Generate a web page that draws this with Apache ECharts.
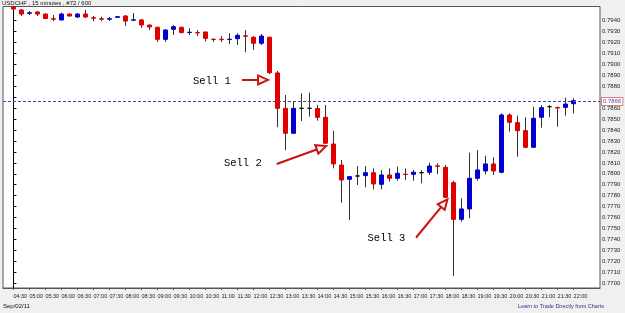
<!DOCTYPE html>
<html><head><meta charset="utf-8">
<script src="https://cdn.jsdelivr.net/npm/echarts@6/dist/echarts.min.js"></script>
<style>html,body{margin:0;padding:0;background:#f0f0f0;}#c{width:625px;height:313px;}</style>
</head><body><div id="c"></div>
<script>
// ---- data (USDCHF, 15 minutes, Sep/02/11) ----
const tickLabels = ['04:30','05:00','05:30','06:00','06:30','07:00','07:30','08:00','08:30','09:00','09:30','10:00','10:30','11:00','11:30','12:00','12:30','13:00','13:30','14:00','14:30','15:00','15:30','16:00','16:30','17:00','17:30','18:00','18:30','19:00','19:30','20:00','20:30','21:00','21:30','22:00'];
const priceTicks = [0.7700,0.7710,0.7720,0.7730,0.7740,0.7750,0.7760,0.7770,0.7780,0.7790,0.7800,0.7810,0.7820,0.7830,0.7840,0.7850,0.7860,0.7870,0.7880,0.7890,0.7900,0.7910,0.7920,0.7930,0.7940];
const opens = [
0.79523,0.79496,0.79466,0.79478,0.79459,0.79416,0.79405,0.79459,0.79432,0.79459,
0.79425,0.79416,0.79412,0.79429,0.79441,0.79403,0.79405,0.79359,0.79338,0.79228,
0.79320,0.79338,0.79290,0.79290,0.79295,0.79229,0.79229,0.79226,0.79234,0.79260,
0.79247,0.79192,0.79247,0.78921,0.78598,0.78370,0.78598,0.78598,0.78596,0.78516,
0.78272,0.78080,0.77950,0.77980,0.77983,0.78010,0.77904,0.77989,0.77959,0.77996,
0.77995,0.78010,0.78014,0.78073,0.78059,0.77919,0.77584,0.77679,0.77959,0.78026,
0.78090,0.78014,0.78537,0.78467,0.78394,0.78242,0.78516,0.78613,0.78606,0.78607,
0.78640];
const closes = [
0.79505,0.79459,0.79470,0.79459,0.79418,0.79412,0.79459,0.79441,0.79459,0.79432,
0.79421,0.79412,0.79416,0.79435,0.79395,0.79406,0.79359,0.79341,0.79228,0.79313,
0.79343,0.79289,0.79293,0.79286,0.79237,0.79226,0.79225,0.79229,0.79265,0.79256,
0.79192,0.79258,0.78923,0.78598,0.78370,0.78598,0.78598,0.78598,0.78516,0.78279,
0.78090,0.77943,0.77974,0.77980,0.78010,0.77907,0.77989,0.77959,0.78005,0.77994,
0.78014,0.78010,0.78071,0.78068,0.77785,0.77584,0.77679,0.77959,0.78035,0.78090,
0.78026,0.78537,0.78470,0.78394,0.78242,0.78507,0.78604,0.78613,0.78601,0.78637,
0.78668];
const lows = [
0.79496,0.79441,0.79450,0.79441,0.79416,0.79395,0.79400,0.79437,0.79423,0.79423,
0.79395,0.79395,0.79395,0.79428,0.79350,0.79395,0.79332,0.79313,0.79204,0.79204,
0.79268,0.79283,0.79268,0.79258,0.79210,0.79204,0.79204,0.79185,0.79176,0.79110,
0.79131,0.79176,0.78911,0.78425,0.78217,0.78370,0.78482,0.78522,0.78485,0.78275,
0.78050,0.77736,0.77578,0.77898,0.77877,0.77858,0.77858,0.77928,0.77937,0.77943,
0.77937,0.77913,0.77989,0.77998,0.77780,0.77067,0.77563,0.77594,0.77937,0.77995,
0.77989,0.78005,0.78385,0.78156,0.78233,0.78240,0.78421,0.78516,0.78430,0.78531,
0.78552];
const highs = [
0.79525,0.79505,0.79487,0.79487,0.79464,0.79450,0.79471,0.79464,0.79468,0.79496,
0.79441,0.79435,0.79432,0.79436,0.79450,0.79468,0.79414,0.79360,0.79343,0.79322,
0.79359,0.79343,0.79329,0.79313,0.79297,0.79237,0.79258,0.79283,0.79283,0.79313,
0.79258,0.79277,0.79252,0.78939,0.78720,0.78658,0.78735,0.78741,0.78628,0.78628,
0.78394,0.78126,0.77976,0.78071,0.78071,0.78050,0.78035,0.78050,0.78065,0.78050,
0.78035,0.78035,0.78101,0.78096,0.78080,0.77937,0.77776,0.78193,0.78217,0.78165,
0.78151,0.78552,0.78552,0.78531,0.78516,0.78613,0.78628,0.78628,0.78613,0.78695,
0.78690];
const currentPrice = 0.7866;
// annotations in data coordinates: [bar index, price]
const noteTexts = ['Sell 1','Sell 2','Sell 3'];
const notePos = [[24.5,0.78847],[28.35,0.78099],[46.3,0.77414]];
const arrowFrom = [[28.55,0.78857],[32.9,0.78090],[50.3,0.77416]];
const arrowTo = [[31.2,0.78857],[38.5,0.78238],[53.85,0.77732]];

// ---- chart ----
const FONT = 'Liberation Sans, Arial, sans-serif';
const X_MIN = -1.3, X_MAX = 73.3;
const wickData = opens.map((o,i)=>[i, o, closes[i], lows[i], highs[i]]);
const bodyData = opens.map((o,i)=>[i, o, closes[i], Math.min(o,closes[i]), Math.max(o,closes[i])]);
// the current-price box hides the tick label it overlaps
const shownPriceLabels = priceTicks.filter(v => Math.abs(v - currentPrice) < 0.00045 || Math.abs(v - currentPrice) > 0.00055 ? Math.abs(v - currentPrice) > 0.00055 : true);

const chart = echarts.init(document.getElementById('c'), null, {renderer:'canvas'});
chart.setOption({
  animation: false,
  backgroundColor: '#f0f0f0',
  title: [
    {text:'USDCHF , 15 minutes , #72 / 600', left:2, top:0, padding:0,
     textStyle:{fontSize:6, fontWeight:'normal', color:'#111', fontFamily:FONT}},
    {text:'Sep/02/11', left:3, top:303, padding:0,
     textStyle:{fontSize:6, fontWeight:'normal', color:'#111', fontFamily:FONT}},
    {text:'Learn to Trade Directly from Charts', left:518, top:303, padding:0,
     textStyle:{fontSize:5.5, fontWeight:'normal', color:'#333388', fontFamily:FONT}}
  ],
  grid: {left:3, right:25, top:6.5, bottom:25, show:true, backgroundColor:'#ffffff', borderColor:'#555', borderWidth:1},
  xAxis: {
    type:'value', min:X_MIN, max:X_MAX,
    axisLine:{show:true, lineStyle:{color:'#555'}},
    splitLine:{show:false},
    axisTick:{show:true, length:2, customValues: tickLabels.map((t,k)=>k*2), lineStyle:{color:'#555'}},
    axisLabel:{customValues: tickLabels.map((t,k)=>k*2), formatter:(v)=>tickLabels[Math.round(v/2)],
      fontSize:5.5, color:'#222', fontFamily:FONT, align:'left', margin:5}
  },
  yAxis: {
    type:'value', position:'right', min:0.7695707, max:0.7952785, scale:true,
    axisLine:{show:true, lineStyle:{color:'#000'}},
    splitLine:{show:false},
    axisTick:{show:true, inside:false, length:3, customValues: priceTicks, lineStyle:{color:'#000'}},
    axisLabel:{customValues: shownPriceLabels, formatter:(v)=>v.toFixed(4), fontSize:6, color:'#222', fontFamily:FONT, margin:2}
  },
  series: [
    {
      type:'candlestick', name:'wicks', data: wickData, encode:{x:0, y:[1,2,3,4]},
      barWidth:1,
      itemStyle:{color:'#333', color0:'#333', borderColor:'#333', borderColor0:'#333', borderColorDoji:'#333', borderWidth:1},
      markLine:{
        silent:true, symbol:['none','none'],
        data:[[{coord:[X_MIN, currentPrice]},{coord:[X_MAX, currentPrice]}]],
        lineStyle:{color:'#4646a0', type:[3,2], width:1},
        label:{show:true, position:'end', distance:2, formatter:()=>currentPrice.toFixed(4),
          fontSize:6, color:'#4a4aa8', fontFamily:FONT, backgroundColor:'#fff', borderColor:'#e08080', borderWidth:1, padding:[1,1,0,1]}
      }
    },
    {
      type:'candlestick', name:'bodies', data: bodyData, encode:{x:0, y:[1,2,3,4]},
      barWidth:5,
      itemStyle:{color:'#0000d0', color0:'#e00000', borderColor:'#0000d0', borderColor0:'#e00000', borderColorDoji:'#000', borderWidth:1},
      markLine:{
        silent:true, symbol:['none','emptyTriangle'], symbolSize:[9,10],
        lineStyle:{color:'#cc1111', width:2, type:'solid'},
        label:{show:false},
        data: arrowFrom.map((a,k)=>[{coord:a},{coord:arrowTo[k]}])
      },
      markPoint:{
        silent:true, symbol:'circle', symbolSize:1,
        itemStyle:{color:'rgba(0,0,0,0)'},
        label:{show:true, position:'inside', formatter:(p)=>p.name, fontSize:10.5, color:'#000',
          fontFamily:'Liberation Mono, Courier New, monospace', backgroundColor:'#fff', padding:[2,10,1,15]},
        data: noteTexts.map((t,k)=>({name:t, coord:notePos[k]}))
      }
    }
  ]
});
</script>
</body></html>
